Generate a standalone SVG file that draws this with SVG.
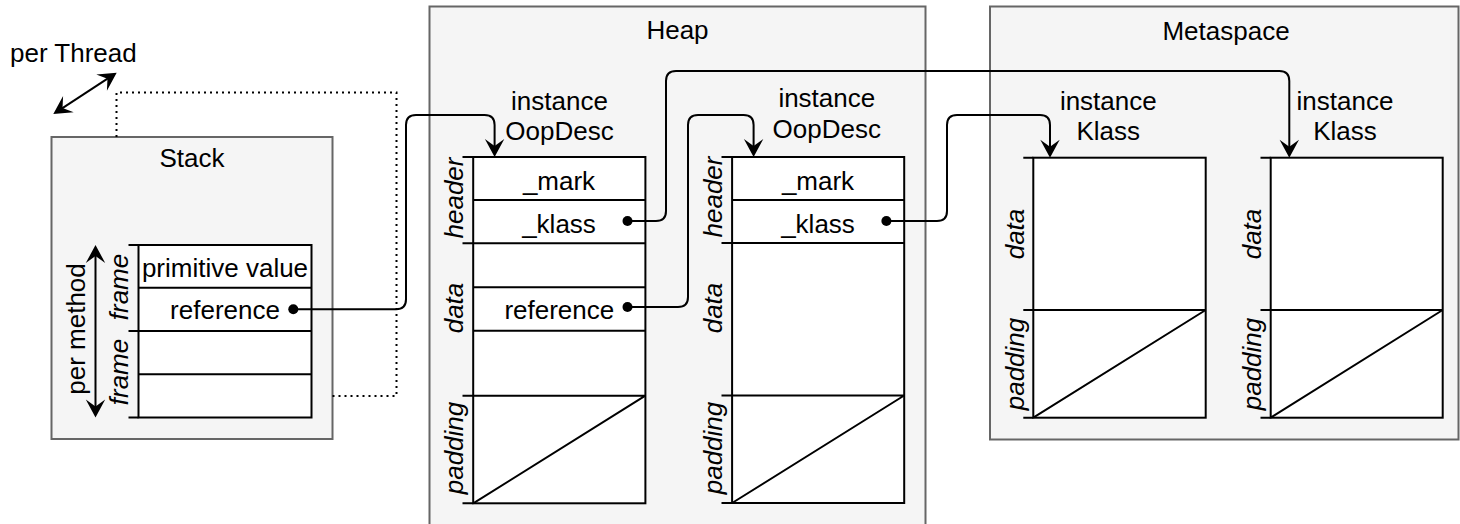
<svg xmlns="http://www.w3.org/2000/svg" width="1460" height="524" viewBox="0 0 1460 524">
  <style>
    .area { fill: #f5f5f5; stroke: #666666; stroke-width: 2; }
    .cell { fill: #ffffff; stroke: #000000; stroke-width: 2; }
    .ln { fill: none; stroke: #000000; stroke-width: 2; }
    .dot { fill: #000000; }
    .t { font-family: "Liberation Sans", Arial, Helvetica, sans-serif; font-size: 26px; fill: #000000; }
    .c { text-anchor: middle; }
    .i { font-style: italic; }
    .wire { fill: none; stroke: #000000; stroke-width: 2; marker-end: url(#ah); }
    .both { fill: none; stroke: #000000; stroke-width: 2; marker-start: url(#ah); marker-end: url(#ah); }
    .dotted { fill: none; stroke: #000000; stroke-width: 2; stroke-dasharray: 2 4; }
  </style>
  <defs>
    <!-- classic filled arrowhead; the tip sits 5px beyond the path end -->
    <marker id="ah" markerUnits="userSpaceOnUse" orient="auto-start-reverse" viewBox="-14 -11 20 22" markerWidth="20" markerHeight="22" refX="0" refY="0">
      <path d="M5,0 L-13,-9.7 L-6,0 L-13,9.7 Z" fill="#000000"/>
    </marker>
  </defs>

  <!-- memory areas -->
  <g id="heap">
    <rect class="area" x="429.5" y="6.5" width="496" height="530"/>
    <text class="t c" x="677.5" y="39">Heap</text>
  </g>
  <g id="metaspace">
    <rect class="area" x="990" y="6.5" width="468.5" height="433"/>
    <text class="t c" x="1226" y="39.5">Metaspace</text>
  </g>
  <g id="stack">
    <rect class="area" x="51.5" y="137" width="281" height="302"/>
    <text class="t c" x="192" y="166.5">Stack</text>
  </g>

  <!-- per-thread marker -->
  <g id="per-thread">
    <text class="t" x="10" y="61.5">per Thread</text>
    <path class="both" d="M57.5,111.3 L112.5,75.4"/>
    <path class="dotted" d="M116.5,137 V92.5 H396.5 V396 H332.5"/>
  </g>

  <!-- stack frames -->
  <g id="stack-frames">
    <rect class="cell" x="138.5" y="245" width="173" height="172.5"/>
    <path class="ln" d="M128.5,245 H138.5 M138.5,287.7 H311.5 M128.5,331 H311.5 M138.5,374.3 H311.5 M128.5,417.5 H138.5"/>
    <text class="t c" x="225" y="276.7">primitive value</text>
    <text class="t c" x="225" y="319.3">reference</text>
    <text class="t c i" transform="translate(128,287) rotate(-90)">frame</text>
    <text class="t c i" transform="translate(128,372) rotate(-90)">frame</text>
    <path class="both" d="M95.5,250 V412.5"/>
    <text class="t c" transform="translate(85,329) rotate(-90)">per method</text>
  </g>

  <!-- first instanceOopDesc -->
  <g id="oop-1">
    <text class="t c" x="559.5" y="110">instance</text>
    <text class="t c" x="559.5" y="140">OopDesc</text>
    <rect class="cell" x="473.2" y="157" width="172.2" height="346.3"/>
    <path class="ln" d="M462.5,157 H473.2 M473.2,200 H645.4 M462.5,243.3 H645.4 M473.2,287.3 H645.4 M473.2,330.7 H645.4 M462.5,395.7 H645.4 M462.5,503.3 H473.2 M473.2,503.3 L645.4,395.7"/>
    <text class="t c" x="559" y="189.5">_mark</text>
    <text class="t c" x="559" y="233">_klass</text>
    <text class="t c" x="559.3" y="318.5">reference</text>
    <text class="t c i" transform="translate(463,198) rotate(-90)">header</text>
    <text class="t c i" transform="translate(463,308) rotate(-90)">data</text>
    <text class="t c i" transform="translate(463,448) rotate(-90)">padding</text>
  </g>

  <!-- second instanceOopDesc -->
  <g id="oop-2">
    <text class="t c" x="826.8" y="107">instance</text>
    <text class="t c" x="826.8" y="138.3">OopDesc</text>
    <rect class="cell" x="732.1" y="157" width="172.1" height="346"/>
    <path class="ln" d="M721.5,157 H732.1 M732.1,200 H904.2 M721.5,243 H904.2 M721.5,395.5 H904.2 M721.5,503 H732.1 M732.1,503 L904.2,395.5"/>
    <text class="t c" x="818" y="189.5">_mark</text>
    <text class="t c" x="818" y="233">_klass</text>
    <text class="t c i" transform="translate(722,197) rotate(-90)">header</text>
    <text class="t c i" transform="translate(722,308) rotate(-90)">data</text>
    <text class="t c i" transform="translate(722,448) rotate(-90)">padding</text>
  </g>

  <!-- first instanceKlass -->
  <g id="klass-1">
    <text class="t c" x="1108.3" y="110">instance</text>
    <text class="t c" x="1108.3" y="140">Klass</text>
    <rect class="cell" x="1033.3" y="157.7" width="172.4" height="260"/>
    <path class="ln" d="M1023.3,157.7 H1033.3 M1023.3,310 H1205.7 M1023.3,417.7 H1033.3 M1033.3,417.7 L1205.7,310"/>
    <text class="t c i" transform="translate(1023.5,234) rotate(-90)">data</text>
    <text class="t c i" transform="translate(1023.5,364) rotate(-90)">padding</text>
  </g>

  <!-- second instanceKlass -->
  <g id="klass-2">
    <text class="t c" x="1345" y="110">instance</text>
    <text class="t c" x="1345" y="140">Klass</text>
    <rect class="cell" x="1270.7" y="157.7" width="172" height="260"/>
    <path class="ln" d="M1260.5,157.7 H1270.7 M1260.5,310 H1442.7 M1260.5,417.7 H1270.7 M1270.7,417.7 L1442.7,310"/>
    <text class="t c i" transform="translate(1260.5,234) rotate(-90)">data</text>
    <text class="t c i" transform="translate(1260.5,364) rotate(-90)">padding</text>
  </g>

  <!-- references between structures -->
  <g id="connectors">
    <path class="wire" d="M293.3,309.3 H396 Q406,309.3 406,299.3 V125 Q406,115 416,115 H484.6 Q494.6,115 494.6,125 V152"/>
    <path class="wire" d="M627.5,221 H656 Q666,221 666,211 V81 Q666,71 676,71 H1279.3 Q1289.3,71 1289.3,81 V152.7"/>
    <path class="wire" d="M627.5,307 H678 Q688,307 688,297 V125 Q688,115 698,115 H743.6 Q753.6,115 753.6,125 V152"/>
    <path class="wire" d="M886.4,221 H937 Q947,221 947,211 V125 Q947,115 957,115 H1040 Q1050,115 1050,125 V152.7"/>
    <circle class="dot" cx="293.3" cy="309.3" r="5"/>
    <circle class="dot" cx="627.5" cy="221" r="5"/>
    <circle class="dot" cx="627.5" cy="307" r="5"/>
    <circle class="dot" cx="886.4" cy="221" r="5"/>
  </g>
</svg>
